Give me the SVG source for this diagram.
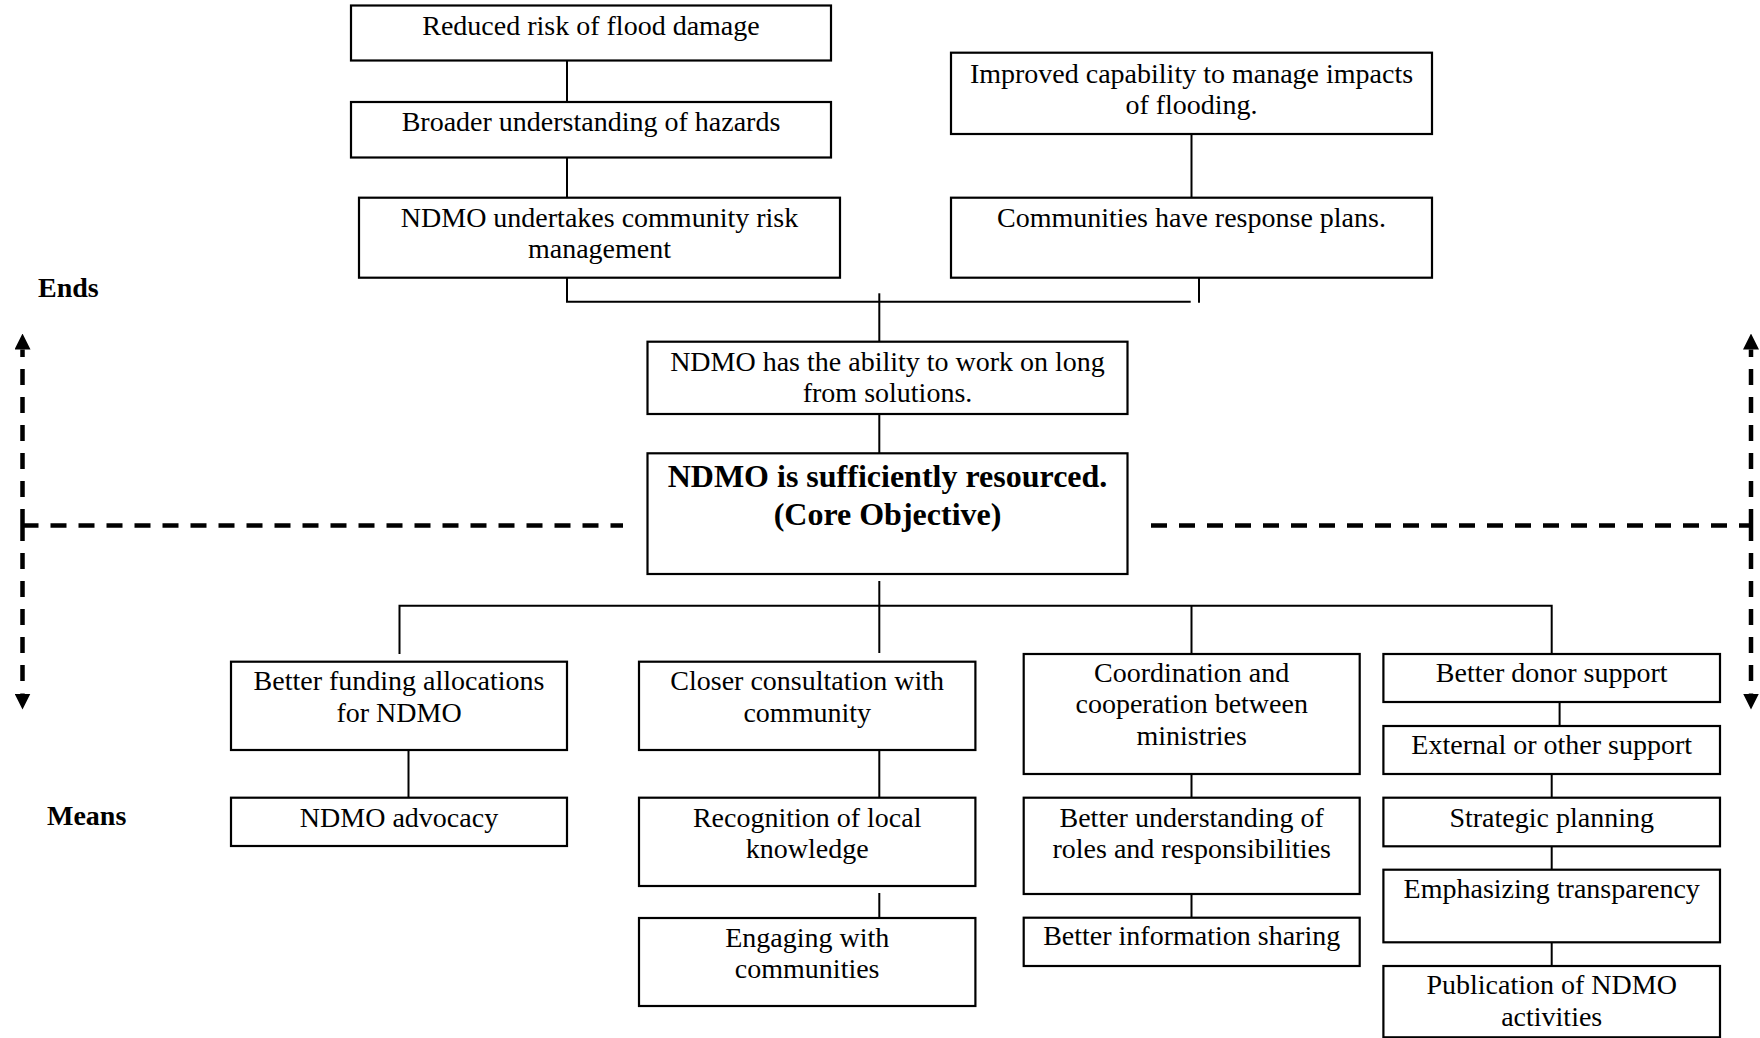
<svg xmlns="http://www.w3.org/2000/svg" width="1760" height="1038" viewBox="0 0 1760 1038">
  <style>
    .box { fill: #ffffff; stroke: #000000; stroke-width: 2.2; }
    .t { font-family: "Liberation Serif", "Times New Roman", serif; font-size: 28px; fill: #000000; text-anchor: middle; }
    .tb { font-family: "Liberation Serif", "Times New Roman", serif; font-size: 32px; font-weight: bold; fill: #000000; text-anchor: middle; }
    .lbl { font-family: "Liberation Serif", "Times New Roman", serif; font-size: 28px; font-weight: bold; fill: #000000; }
    .conn { fill: none; stroke: #000000; stroke-width: 2; }
    .dash { fill: none; stroke: #000000; stroke-width: 4.5; stroke-dasharray: 16 12; }
  </style>
  <defs>
    <marker id="head" viewBox="0 0 16 16" refX="0" refY="8" markerWidth="16" markerHeight="16" markerUnits="userSpaceOnUse" orient="auto">
      <path d="M0,0 L16,8 L0,16 Z" fill="#000000"/>
    </marker>
  </defs>
  <rect width="1760" height="1038" fill="#ffffff"/>

  <!-- side labels -->
  <text class="lbl" x="38" y="297">Ends</text>
  <text class="lbl" x="47" y="825">Means</text>

  <!-- ends/means divider and direction arrows -->
  <g id="divider">
    <path class="dash" d="M22.5,525.5 H623"/>
    <path class="dash" d="M1151,525.5 H1751"/>
    <path class="dash" d="M22.5,525 V349.5" marker-end="url(#head)"/>
    <path class="dash" d="M22.5,525 V693.5" marker-end="url(#head)"/>
    <path class="dash" d="M1751,525 V349.5" marker-end="url(#head)"/>
    <path class="dash" d="M1751,525 V693.5" marker-end="url(#head)"/>
  </g>

  <!-- connectors -->
  <g id="connectors">
    <path class="conn" d="M567,53 V102"/>
    <path class="conn" d="M567,149 V197.7"/>
    <path class="conn" d="M567,277.7 V301.7 H1190.7"/>
    <path class="conn" d="M1199,278 V302.7"/>
    <path class="conn" d="M1191.5,125 V197.7"/>
    <path class="conn" d="M879.3,293.3 V341.7"/>
    <path class="conn" d="M879.3,414 V461.7"/>
    <path class="conn" d="M879.3,581 V653"/>
    <path class="conn" d="M399.5,654 V605.7 H1551.7 V654"/>
    <path class="conn" d="M1191.5,605.7 V654"/>
    <path class="conn" d="M408.5,750 V797.7"/>
    <path class="conn" d="M879.3,750 V797.7"/>
    <path class="conn" d="M879.3,893 V918"/>
    <path class="conn" d="M1191.5,774 V797.7"/>
    <path class="conn" d="M1191.5,894 V917.7"/>
    <path class="conn" d="M1559.6,702 V726"/>
    <path class="conn" d="M1551.7,774 V797.7"/>
    <path class="conn" d="M1551.7,846.3 V869.7"/>
    <path class="conn" d="M1551.7,942.3 V966"/>
  </g>

  <!-- ends -->
  <g id="n-reduced-risk">
    <rect class="box" x="351" y="5.5" width="480" height="55"/>
    <text class="t" x="591" y="34.5">Reduced risk of flood damage</text>
  </g>
  <g id="n-broader-understanding">
    <rect class="box" x="351" y="102" width="480" height="55.5"/>
    <text class="t" x="591" y="130.5">Broader understanding of hazards</text>
  </g>
  <g id="n-community-risk">
    <rect class="box" x="359" y="197.7" width="481" height="80"/>
    <text class="t" x="599.5" y="226.7">NDMO undertakes community risk</text>
    <text class="t" x="599.5" y="258">management</text>
  </g>
  <g id="n-improved-capability">
    <rect class="box" x="951" y="52.7" width="481" height="81.3"/>
    <text class="t" x="1191.5" y="82.7">Improved capability to manage impacts</text>
    <text class="t" x="1191.5" y="114.3">of flooding.</text>
  </g>
  <g id="n-response-plans">
    <rect class="box" x="951" y="197.7" width="481" height="80"/>
    <text class="t" x="1191.5" y="226.7">Communities have response plans.</text>
  </g>
  <g id="n-long-term">
    <rect class="box" x="647.5" y="341.7" width="480" height="72.3"/>
    <text class="t" x="887.5" y="370.7">NDMO has the ability to work on long</text>
    <text class="t" x="887.5" y="401.7">from solutions.</text>
  </g>

  <!-- core objective -->
  <g id="n-core">
    <rect class="box" x="647.5" y="453.3" width="480" height="120.7"/>
    <text class="tb" x="887.5" y="486.5">NDMO is sufficiently resourced.</text>
    <text class="tb" x="887.5" y="524.5">(Core Objective)</text>
  </g>

  <!-- means: column 1 -->
  <g id="n-funding">
    <rect class="box" x="231" y="661.7" width="336" height="88.3"/>
    <text class="t" x="399" y="690">Better funding allocations</text>
    <text class="t" x="399" y="721.7">for NDMO</text>
  </g>
  <g id="n-advocacy">
    <rect class="box" x="231" y="797.7" width="336" height="48.3"/>
    <text class="t" x="399" y="826.7">NDMO advocacy</text>
  </g>

  <!-- means: column 2 -->
  <g id="n-consultation">
    <rect class="box" x="639" y="661.7" width="336.4" height="88.3"/>
    <text class="t" x="807.2" y="690">Closer consultation with</text>
    <text class="t" x="807.2" y="721.7">community</text>
  </g>
  <g id="n-local-knowledge">
    <rect class="box" x="639" y="797.7" width="336.4" height="88.3"/>
    <text class="t" x="807.2" y="826.7">Recognition of local</text>
    <text class="t" x="807.2" y="858.3">knowledge</text>
  </g>
  <g id="n-engaging">
    <rect class="box" x="639" y="918" width="336.4" height="88"/>
    <text class="t" x="807.2" y="946.7">Engaging with</text>
    <text class="t" x="807.2" y="978.3">communities</text>
  </g>

  <!-- means: column 3 -->
  <g id="n-coordination">
    <rect class="box" x="1023.7" y="654" width="336" height="120"/>
    <text class="t" x="1191.7" y="681.7">Coordination and</text>
    <text class="t" x="1191.7" y="713.3">cooperation between</text>
    <text class="t" x="1191.7" y="745">ministries</text>
  </g>
  <g id="n-roles">
    <rect class="box" x="1023.7" y="797.7" width="336" height="96.3"/>
    <text class="t" x="1191.7" y="826.7">Better understanding of</text>
    <text class="t" x="1191.7" y="858.3">roles and responsibilities</text>
  </g>
  <g id="n-info-sharing">
    <rect class="box" x="1023.7" y="917.7" width="336" height="48.3"/>
    <text class="t" x="1191.7" y="945">Better information sharing</text>
  </g>

  <!-- means: column 4 -->
  <g id="n-donor">
    <rect class="box" x="1383.4" y="654" width="336.6" height="48"/>
    <text class="t" x="1551.7" y="681.7">Better donor support</text>
  </g>
  <g id="n-external">
    <rect class="box" x="1383.4" y="726" width="336.6" height="48"/>
    <text class="t" x="1551.7" y="754">External or other support</text>
  </g>
  <g id="n-strategic">
    <rect class="box" x="1383.4" y="797.7" width="336.6" height="48.6"/>
    <text class="t" x="1551.7" y="826.7">Strategic planning</text>
  </g>
  <g id="n-transparency">
    <rect class="box" x="1383.4" y="869.7" width="336.6" height="72.6"/>
    <text class="t" x="1551.7" y="898.3">Emphasizing transparency</text>
  </g>
  <g id="n-publication">
    <rect class="box" x="1383.4" y="966" width="336.6" height="71.3"/>
    <text class="t" x="1551.7" y="994">Publication of NDMO</text>
    <text class="t" x="1551.7" y="1025.7">activities</text>
  </g>
</svg>
